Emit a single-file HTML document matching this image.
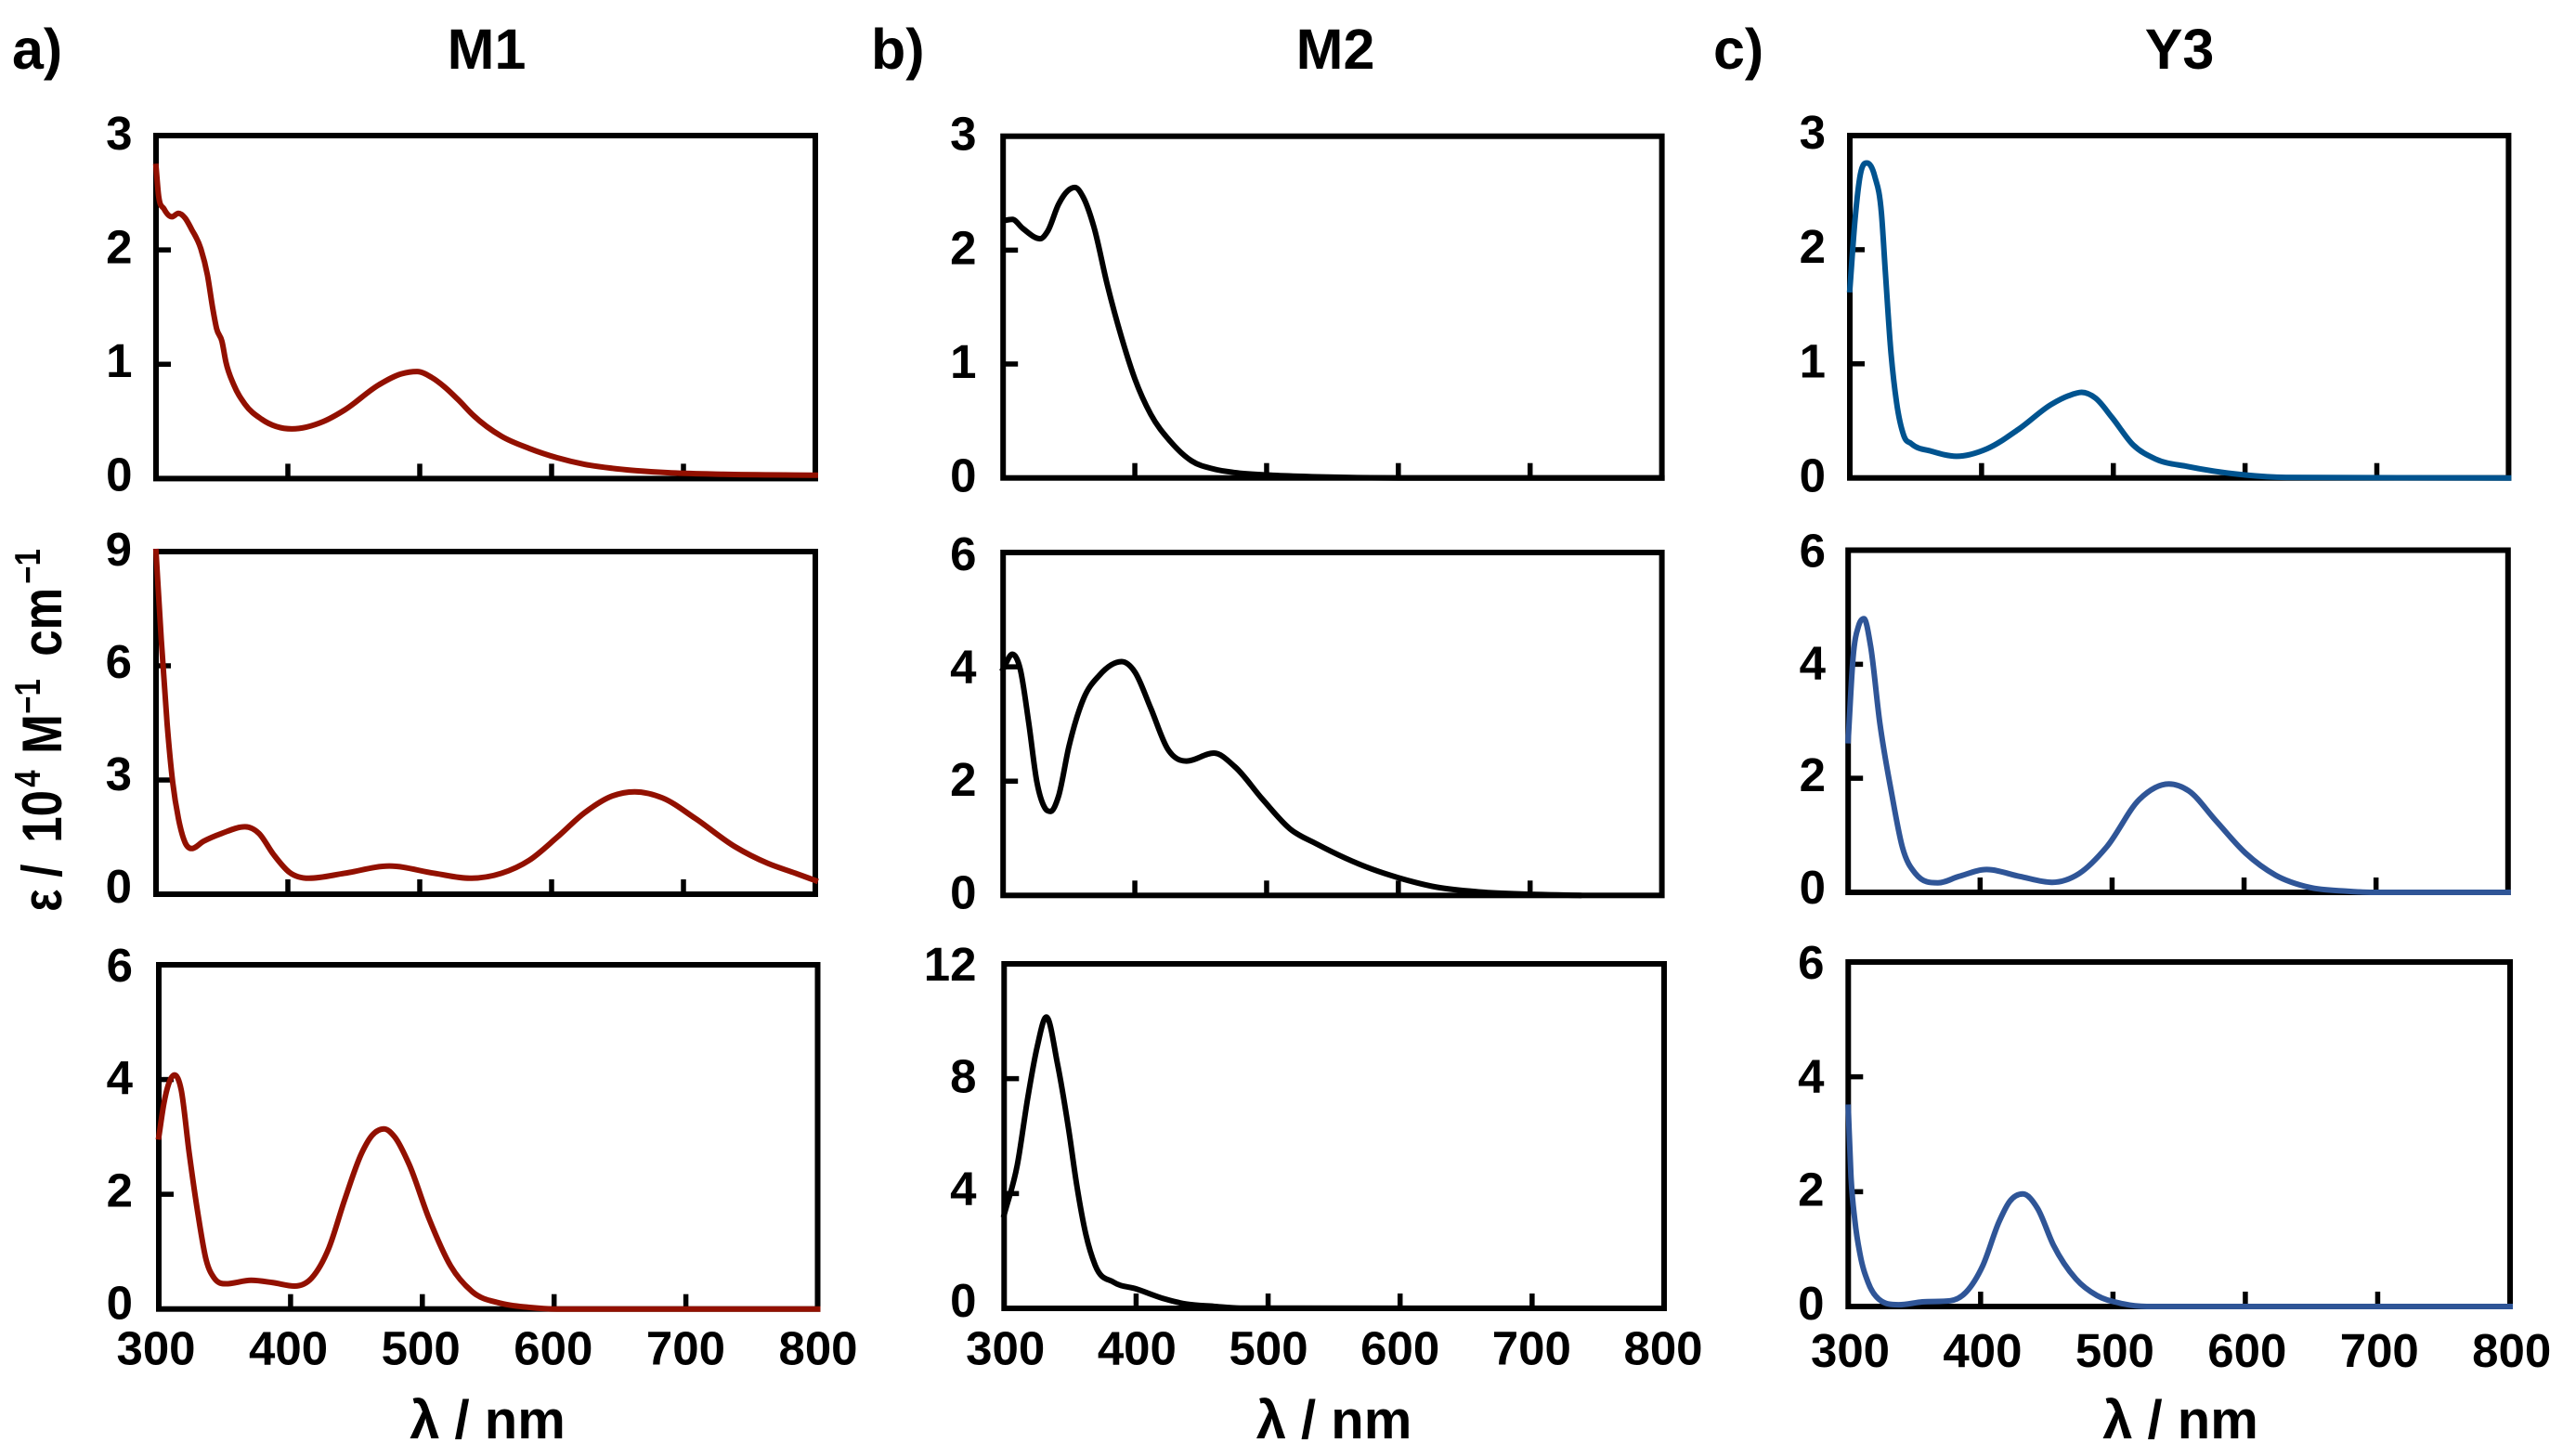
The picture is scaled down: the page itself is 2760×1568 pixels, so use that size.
<!DOCTYPE html>
<html lang="en">
<head>
<meta charset="utf-8">
<title>Absorption spectra M1, M2, Y3</title>
<style>
html,body{margin:0;padding:0;background:#fff;width:2760px;height:1568px;overflow:hidden}
svg{display:block}
text{font-family:"Liberation Sans",Arial,sans-serif;font-weight:bold;fill:#000}
</style>
</head>
<body>
<svg id="figure" xmlns="http://www.w3.org/2000/svg" width="2760" height="1568" viewBox="0 0 2760 1568">
  <rect x="0" y="0" width="2760" height="1568" fill="#fff"/>
  <text x="13" y="74" font-size="61">a)</text>
  <text x="938" y="74" font-size="61">b)</text>
  <text x="1845" y="74" font-size="61">c)</text>
  <text x="524" y="74" font-size="61" text-anchor="middle">M1</text>
  <text x="1438" y="74" font-size="61" text-anchor="middle">M2</text>
  <text x="2347" y="74" font-size="61" text-anchor="middle">Y3</text>
  <text transform="translate(66,981.7) rotate(-90) scale(1,1.18)" font-size="51"><tspan x="0">ε</tspan><tspan x="37">/</tspan><tspan x="74">10</tspan><tspan x="134" font-size="33" dy="-19.5">4</tspan><tspan x="170" dy="19.5">M</tspan><tspan x="213" font-size="33" dy="-19.5">−1</tspan><tspan x="275" dy="19.5">cm</tspan><tspan x="353" font-size="33" dy="-19.5">−1</tspan></text>
  <text x="525" y="1549" font-size="58" text-anchor="middle">λ / nm</text>
  <text x="1436.5" y="1549" font-size="58" text-anchor="middle">λ / nm</text>
  <text x="2348" y="1549" font-size="58" text-anchor="middle">λ / nm</text>
</svg>
<script>
var xTickLabels = [300, 400, 500, 600, 700, 800];
var ticksTo3 = [0, 1, 2, 3];
var ticksTo6 = [0, 2, 4, 6];
var ticksTo9 = [0, 3, 6, 9];
var ticksTo12 = [0, 4, 8, 12];

var m1TopW = [300,302,306,312,317,322,327,334,339,343,346,350,353,359,367.5,380,403,427,443,469,486,498,509,519,530,540,562,583,604,625,646,688,730,800];
var m1TopV = [2.73,2.47,2.36,2.29,2.32,2.28,2.18,2.01,1.78,1.49,1.31,1.2,1.02,0.82,0.65,0.52,0.435,0.5,0.6,0.82,0.916,0.936,0.885,0.8,0.68,0.56,0.37,0.264,0.183,0.125,0.09,0.052,0.038,0.03];
var m1MidW = [300,304,308.4,312.7,317,322,327,336,350,367.5,378,389,401,416,443,477,511,538,562,583,604,625,646,663,684,709,739,764,785,800];
var m1MidV = [9,6.68,4.49,2.93,1.99,1.36,1.2,1.39,1.6,1.77,1.6,1.05,0.58,0.42,0.55,0.74,0.55,0.42,0.55,0.89,1.49,2.14,2.58,2.69,2.53,1.99,1.25,0.81,0.55,0.36];
var m1BotW = [300,304,308.4,312,317,323,329.5,336,342,351,370,386.5,403,416,429,441,454,462,471,479,490,505,521.5,538,559.5,580.6,602,800];
var m1BotV = [3,3.6,3.98,4.08,3.82,2.73,1.69,0.85,0.54,0.44,0.5,0.46,0.4,0.54,1.06,1.9,2.72,3.03,3.14,3.0,2.52,1.58,0.75,0.3,0.1,0.03,0,0];

var m2TopW = [301,307,315,328,334,342,349,354.5,361,369,379,390,400,412,427,443,460,476,500,538,600,800];
var m2TopV = [2.26,2.27,2.19,2.1,2.17,2.4,2.52,2.55,2.46,2.2,1.7,1.23,0.87,0.56,0.32,0.15,0.078,0.047,0.026,0.01,0,0];
var m2MidW = [300,307,313,319.4,325.6,332,336,342,350,361,373,390,400,412,425,439,460,476,497,518,538,580,600,629,662,700,737];
var m2MidV = [3.96,4.22,3.96,3.03,1.99,1.52,1.47,1.73,2.61,3.44,3.85,4.09,3.91,3.28,2.56,2.35,2.49,2.25,1.68,1.16,0.9,0.46,0.31,0.145,0.06,0.02,0];
var m2BotW = [300,310,318,325,332,340.5,349,355,362,369,383,400,421.5,438,459,479,800];
var m2BotV = [3.26,5,7.36,9.1,10.15,8.5,6.2,4.3,2.56,1.5,0.91,0.68,0.33,0.15,0.07,0.01,0];

var y3TopW = [300,304,308,313,319,324,327,331,335.5,341,346.7,362,381,404,428.5,453,466,476,486.4,499,515,532,556.6,600,631,800];
var y3TopV = [1.65,2.27,2.66,2.76,2.64,2.32,1.8,1.13,0.66,0.37,0.3,0.234,0.19,0.255,0.43,0.645,0.72,0.75,0.7,0.53,0.29,0.166,0.1,0.026,0.005,0];
var y3MidW = [300,303.7,308,312,317,324,333,341,351,368,384,405,430,454.5,475,496,520.7,543,558,578.5,601,624,649,678,698,800];
var y3MidV = [2.66,4.11,4.68,4.8,4.32,2.97,1.73,0.8,0.33,0.166,0.28,0.4,0.28,0.176,0.33,0.8,1.63,1.9,1.78,1.26,0.69,0.3,0.09,0.02,0,0];
var y3BotW = [300,302,305,309,315,323,338,356,377,389,401.6,414,422,432,443,455,472,488,505,525.6,800];
var y3BotV = [3.47,2.3,1.5,0.9,0.42,0.13,0.03,0.08,0.1,0.25,0.71,1.48,1.83,1.96,1.71,1.07,0.48,0.19,0.06,0,0];

var panels = [
  {id:'m1-top',    l:168,    r:878,    t:146,  b:515.4, ticks:ticksTo3,  w:m1TopW, v:m1TopV, color:'#921000', yLabelX:142.5,  yLabelTop:-3, yLabelBottom:-5},
  {id:'m1-middle', l:168,    r:878,    t:594,  b:963,   ticks:ticksTo9,  w:m1MidW, v:m1MidV, color:'#921000', yLabelX:142,    yLabelTop:-3, yLabelBottom:-9},
  {id:'m1-bottom', l:171,    r:880.5,  t:1039, b:1409.7,ticks:ticksTo6,  w:m1BotW, v:m1BotV, color:'#921000', yLabelX:143,    yLabelTop:0,  yLabelBottom:-7, xLabelLeft:168,    xLabelRight:881,    xLabelY:1469.5},
  {id:'m2-top',    l:1080.2, r:1789.6, t:146.7,b:514.7, ticks:ticksTo3,  w:m2TopW, v:m2TopV, color:'#000000', yLabelX:1051.5, yLabelTop:-3, yLabelBottom:-3},
  {id:'m2-middle', l:1080.2, r:1789.6, t:595,  b:964.3, ticks:ticksTo6,  w:m2MidW, v:m2MidV, color:'#000000', yLabelX:1051.5, yLabelTop:1,  yLabelBottom:-4},
  {id:'m2-bottom', l:1081.3, r:1792,   t:1038, b:1409,  ticks:ticksTo12, w:m2BotW, v:m2BotV, color:'#000000', yLabelX:1051.5, yLabelTop:0,  yLabelBottom:-9, xLabelLeft:1082.7, xLabelRight:1791,   xLabelY:1469.5},
  {id:'y3-top',    l:1992,   r:2701.4, t:146,  b:514.7, ticks:ticksTo3,  w:y3TopW, v:y3TopV, color:'#00538f', yLabelX:1966,   yLabelTop:-4, yLabelBottom:-3},
  {id:'y3-middle', l:1990.2, r:2700.8, t:592.5,b:961,   ticks:ticksTo6,  w:y3MidW, v:y3MidV, color:'#2f5597', yLabelX:1966,   yLabelTop:0,  yLabelBottom:-6},
  {id:'y3-bottom', l:1990.3, r:2703,   t:1036, b:1407,  ticks:ticksTo6,  w:y3BotW, v:y3BotV, color:'#2f5597', yLabelX:1964.5, yLabelTop:0,  yLabelBottom:-4, xLabelLeft:1992.5, xLabelRight:2704.7, xLabelY:1472}
];

var NS = 'http://www.w3.org/2000/svg';
var svg = document.getElementById('figure');

function make(tag, attrs, parent) {
  var el = document.createElementNS(NS, tag);
  for (var k in attrs) el.setAttribute(k, attrs[k]);
  parent.appendChild(el);
  return el;
}

function smoothPath(px, py) {
  var n = px.length, s = [], m = [], i;
  for (i = 0; i < n - 1; i++) s.push((py[i + 1] - py[i]) / (px[i + 1] - px[i]));
  m[0] = s[0];
  m[n - 1] = s[n - 2];
  for (i = 1; i < n - 1; i++) {
    if (s[i - 1] * s[i] <= 0) { m[i] = 0; continue; }
    var h0 = px[i] - px[i - 1], h1 = px[i + 1] - px[i];
    var p = (s[i - 1] * h1 + s[i] * h0) / (h0 + h1);
    var sign = s[i] > 0 ? 1 : -1;
    m[i] = sign * Math.min(3 * Math.abs(s[i - 1]), 3 * Math.abs(s[i]), Math.abs(p));
  }
  var d = 'M' + px[0].toFixed(2) + ' ' + py[0].toFixed(2);
  for (i = 0; i < n - 1; i++) {
    var dx = (px[i + 1] - px[i]) / 3;
    d += 'C' + (px[i] + dx).toFixed(2) + ' ' + (py[i] + m[i] * dx).toFixed(2) + ' ' +
         (px[i + 1] - dx).toFixed(2) + ' ' + (py[i + 1] - m[i + 1] * dx).toFixed(2) + ' ' +
         px[i + 1].toFixed(2) + ' ' + py[i + 1].toFixed(2);
  }
  return d;
}

panels.forEach(function (P) {
  var xMin = xTickLabels[0], xMax = xTickLabels[xTickLabels.length - 1];
  var yMax = P.ticks[P.ticks.length - 1];
  function sx(w) { return P.l + (w - xMin) * (P.r - P.l) / (xMax - xMin); }
  function sy(v) { return P.b - v * (P.b - P.t) / yMax; }

  var g = make('g', {}, svg);
  
  

  var frame = make('rect', {x:P.l, y:P.t, width:P.r - P.l, height:P.b - P.t, fill:'none', stroke:'#000', 'stroke-width':6}, g);
  
  

  xTickLabels.forEach(function (w) {
    if (w !== xMin && w !== xMax) {
      var t = make('line', {x1:sx(w), x2:sx(w), y1:P.b, y2:P.b - 16, stroke:'#000', 'stroke-width':5.5}, g);
      
      
    }
    if (P.xLabelY) {
      var fx = (w - xMin) / (xMax - xMin);
      var lab = make('text', {x:P.xLabelLeft + fx * (P.xLabelRight - P.xLabelLeft), y:P.xLabelY, 'font-size':51, 'text-anchor':'middle'}, g);
      lab.textContent = w;
      
      
    }
  });

  P.ticks.forEach(function (v) {
    if (v !== 0 && v !== yMax) {
      var t = make('line', {x1:P.l, x2:P.l + 16, y1:sy(v), y2:sy(v), stroke:'#000', 'stroke-width':5.5}, g);
      
      
    }
    var fy = v / yMax;
    var off = P.yLabelBottom + fy * (P.yLabelTop - P.yLabelBottom);
    var lab = make('text', {x:P.yLabelX, y:sy(v) + off + 18, 'font-size':51, 'text-anchor':'end'}, g);
    lab.textContent = v;
    
    
  });

  var path = make('path', {d:smoothPath(P.w.map(sx), P.v.map(sy)), fill:'none', stroke:P.color, 'stroke-width':6, 'stroke-linejoin':'round', 'stroke-linecap':'square'}, g);
  
  
});
</script>
</body>
</html>
